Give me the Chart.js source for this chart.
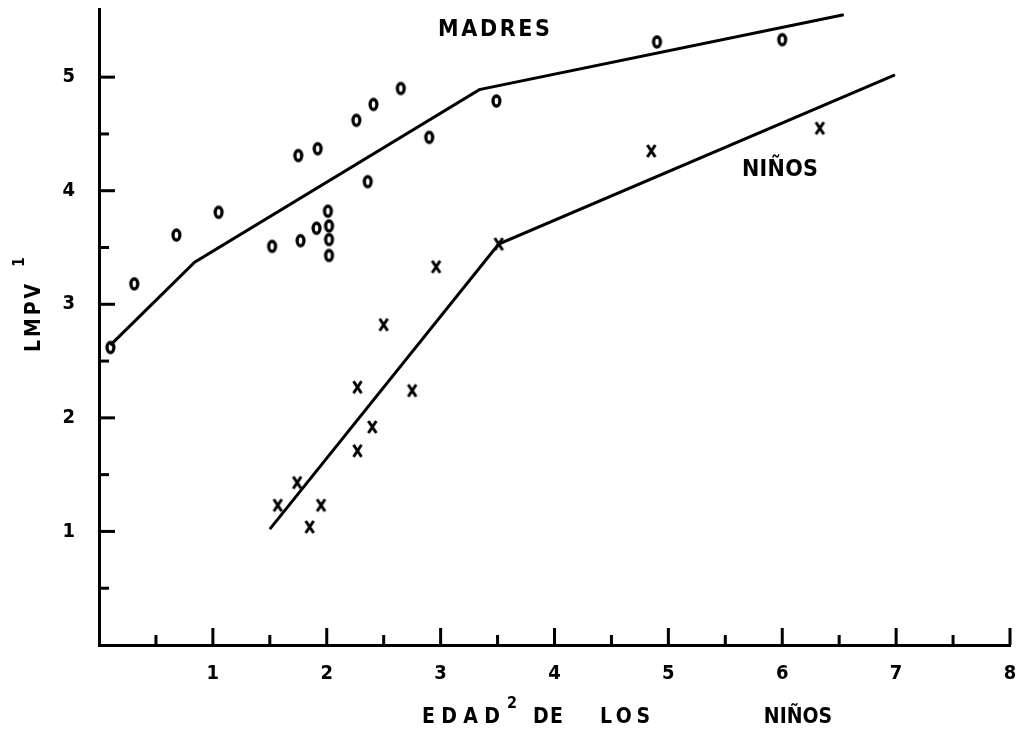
<!DOCTYPE html>
<html>
<head>
<meta charset="utf-8">
<script src="https://cdn.jsdelivr.net/npm/chart.js@4/dist/chart.umd.min.js"></script>
<style>
  html, body { margin: 0; padding: 0; background: #fff; }
  canvas { display: block; }
</style>
</head>
<body>
<canvas id="chart" width="1017" height="733"></canvas>
<script>
// measured points (madres = "o", niños = "x")
const madresX = [0.10, 0.31, 0.68, 1.05, 1.52, 1.77, 1.75, 1.92, 2.01, 1.91, 2.02, 2.02, 2.02, 2.26, 2.41, 2.65, 2.36, 2.90, 3.49, 4.90, 6.00];
const madresY = [2.62, 3.18, 3.61, 3.81, 3.51, 3.56, 4.31, 4.37, 3.82, 3.67, 3.69, 3.57, 3.43, 4.62, 4.76, 4.90, 4.08, 4.47, 4.79, 5.31, 5.33];
const ninosX = [1.57, 1.74, 1.85, 1.95, 2.27, 2.27, 2.40, 2.50, 2.75, 2.96, 3.51, 4.85, 6.33];
const ninosY = [1.23, 1.43, 1.04, 1.23, 1.71, 2.27, 1.92, 2.82, 2.24, 3.33, 3.53, 4.35, 4.55];

// fitted broken lines
const madresLineX = [0.10, 0.84, 3.34, 6.54];
const madresLineY = [2.64, 3.37, 4.89, 5.55];
const ninosLineX = [1.50, 3.51, 6.99];
const ninosLineY = [1.02, 3.53, 5.02];

// axis marks
const xTickMarks = [0.5, 1, 1.5, 2, 2.5, 3, 3.5, 4, 4.5, 5, 5.5, 6, 6.5, 7, 7.5, 8];
const yTickMarks = [0.5, 1, 1.5, 2, 2.5, 3, 3.5, 4, 4.5, 5];

const FONT = '"Liberation Sans Narrow", "DejaVu Sans Condensed", "Arial Narrow", sans-serif';

function toPoints(xs, ys) {
  return xs.map((x, i) => ({ x, y: ys[i] }));
}

// small glyph canvases used as point styles
function glyph(w, h, draw) {
  const c = document.createElement('canvas');
  c.width = w;
  c.height = h;
  const g = c.getContext('2d');
  g.strokeStyle = '#000';
  draw(g);
  return c;
}
const ringMark = glyph(13, 16, g => {
  g.lineWidth = 3.3;
  g.beginPath();
  g.ellipse(6.5, 8, 3.4, 5, 0, 0, Math.PI * 2);
  g.stroke();
});
const crossMark = glyph(13, 16, g => {
  g.lineWidth = 3;
  g.beginPath();
  g.moveTo(2.5, 2); g.lineTo(10.5, 14);
  g.moveTo(10.5, 2); g.lineTo(2.5, 14);
  g.stroke();
});

// text stretched to a given width
function spaced(ctx, text, cx, cy, width, size) {
  ctx.font = `bold ${size}px ${FONT}`;
  ctx.letterSpacing = '0px';
  const w = ctx.measureText(text).width;
  const gap = text.length > 1 ? Math.max(0, (width - w) / (text.length - 1)) : 0;
  ctx.letterSpacing = gap + 'px';
  ctx.textAlign = 'left';
  ctx.textBaseline = 'middle';
  ctx.fillText(text, cx - Math.max(width, w) / 2, cy);
  ctx.letterSpacing = '0px';
}

// keep the plot area where the axes sit, not where label padding pushes it
function noPad(s) {
  s.paddingTop = 0;
  s.paddingBottom = 0;
  s.paddingLeft = 0;
  s.paddingRight = 0;
}

const overlay = {
  id: 'overlay',
  afterDraw(chart) {
    const { ctx, chartArea: a } = chart;
    const xs = chart.scales.x, ys = chart.scales.y;
    ctx.save();
    ctx.strokeStyle = '#000';
    ctx.fillStyle = '#000';
    ctx.lineWidth = 3;
    // inward tick marks
    yTickMarks.forEach(v => {
      const p = ys.getPixelForValue(v);
      const len = Number.isInteger(v) ? 16 : 10;
      ctx.beginPath();
      ctx.moveTo(a.left, p);
      ctx.lineTo(a.left + len, p);
      ctx.stroke();
    });
    xTickMarks.forEach(v => {
      const p = xs.getPixelForValue(v);
      const len = Number.isInteger(v) ? 17 : 10;
      ctx.beginPath();
      ctx.moveTo(p, a.bottom);
      ctx.lineTo(p, a.bottom - len);
      ctx.stroke();
    });

    // series labels
    spaced(ctx, 'MADRES', 494, 30, 112, 23);
    spaced(ctx, 'NIÑOS', 780, 170, 76, 23);

    // x axis title
    spaced(ctx, 'EDAD', 461, 718, 78, 21);
    spaced(ctx, '2', 512, 704, 9, 16);
    spaced(ctx, 'DE', 548, 718, 30, 21);
    spaced(ctx, 'LOS', 625, 718, 50, 21);
    spaced(ctx, 'NIÑOS', 798, 718, 63, 21);

    // y axis title
    ctx.translate(35, 318);
    ctx.rotate(-Math.PI / 2);
    spaced(ctx, 'LMPV', 0, 0, 68, 21);
    spaced(ctx, '1', 56, -15, 6, 15);
    ctx.restore();
  }
};

new Chart(document.getElementById('chart'), {
  type: 'scatter',
  data: {
    datasets: [
      {
        label: 'Madres (recta)',
        data: toPoints(madresLineX, madresLineY),
        showLine: true,
        borderColor: '#000',
        borderWidth: 3,
        pointRadius: 0,
        tension: 0
      },
      {
        label: 'Niños (recta)',
        data: toPoints(ninosLineX, ninosLineY),
        showLine: true,
        borderColor: '#000',
        borderWidth: 3,
        pointRadius: 0,
        tension: 0
      },
      {
        label: 'Madres',
        data: toPoints(madresX, madresY),
        pointStyle: ringMark,
        pointRadius: 6
      },
      {
        label: 'Niños',
        data: toPoints(ninosX, ninosY),
        pointStyle: crossMark,
        pointRadius: 6
      }
    ]
  },
  options: {
    responsive: false,
    animation: false,
    layout: { padding: { top: 9, right: 7, left: 0, bottom: 0 } },
    plugins: {
      legend: { display: false },
      tooltip: { enabled: false }
    },
    scales: {
      x: {
        type: 'linear',
        min: 0,
        max: 8,
        grid: { display: false, drawTicks: false },
        border: { display: true, color: '#000', width: 3 },
        ticks: {
          stepSize: 1,
          padding: 17,
          color: '#000',
          font: { family: FONT, size: 20, weight: 'bold' },
          callback: v => (v > 0 && Number.isInteger(v)) ? String(v) : ''
        },
        afterFit: s => { s.height = 88; noPad(s); }
      },
      y: {
        type: 'linear',
        min: 0,
        max: 5.6,
        grid: { display: false, drawTicks: false },
        border: { display: true, color: '#000', width: 3 },
        ticks: {
          stepSize: 1,
          padding: 24,
          color: '#000',
          font: { family: FONT, size: 20, weight: 'bold' },
          callback: v => (v > 0 && Number.isInteger(v)) ? String(v) : ''
        },
        afterFit: s => { s.width = 99; noPad(s); }
      }
    }
  },
  plugins: [overlay]
});
</script>
</body>
</html>
